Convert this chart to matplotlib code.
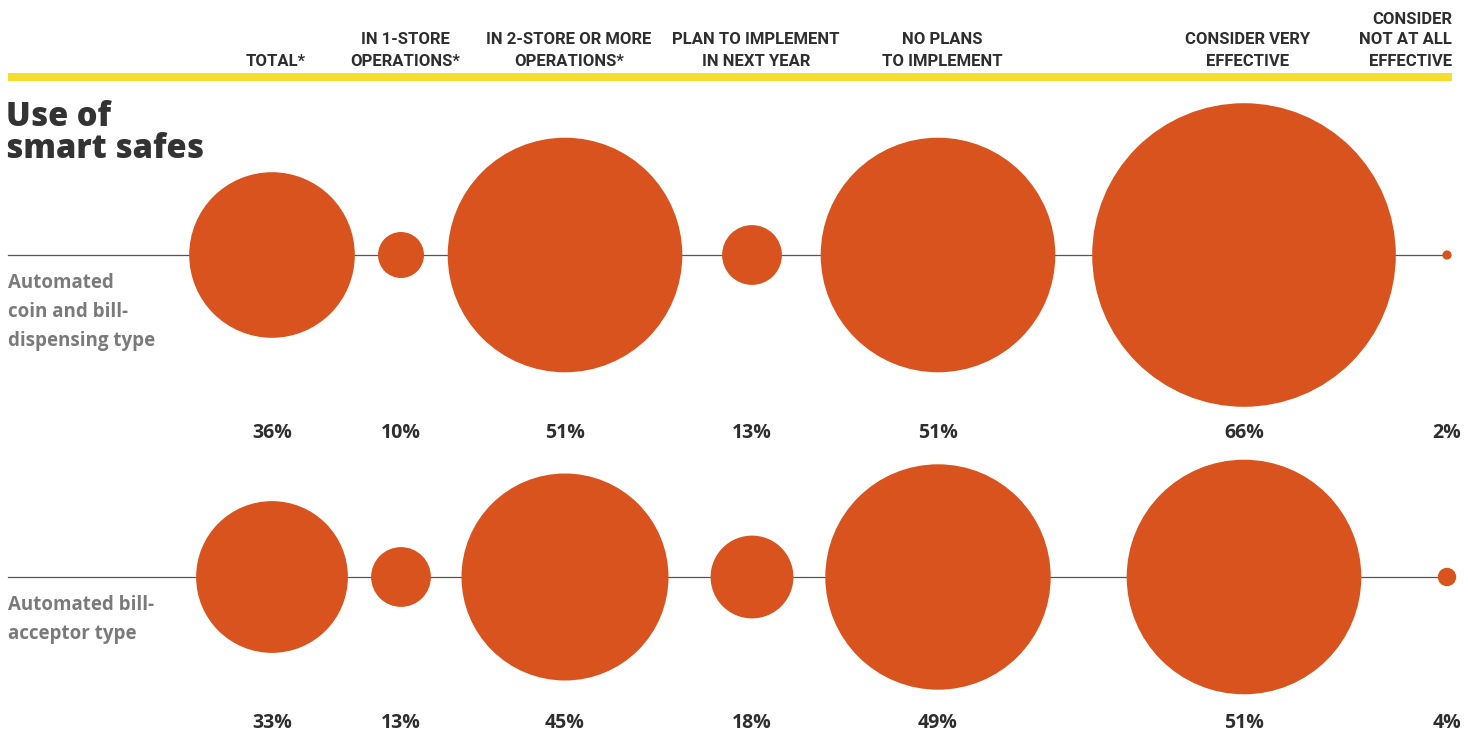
import matplotlib
matplotlib.use("Agg")
import matplotlib.pyplot as plt
from matplotlib.patches import Circle, Rectangle

# ---- data ----
columns = ["TOTAL*", "IN 1-STORE\nOPERATIONS*", "IN 2-STORE OR MORE\nOPERATIONS*",
           "PLAN TO IMPLEMENT\nIN NEXT YEAR", "NO PLANS\nTO IMPLEMENT",
           "CONSIDER VERY\nEFFECTIVE", "CONSIDER\nNOT AT ALL\nEFFECTIVE"]
row_labels = ["Automated\ncoin and bill-\ndispensing type", "Automated bill-\nacceptor type"]
coin_bill_dispensing = [36, 10, 51, 13, 51, 66, 2]
bill_acceptor = [33, 13, 45, 18, 49, 51, 4]
title = "Use of\nsmart safes"

# ---- layout ----
W, H = 1468, 736
col_x = [272, 401, 565, 752, 938, 1244, 1447]
row_y = [255, 577]
label_y = [433, 723]
px_per_pct = 4.6
circle_color = "#D9531F"
dark = "#2e2e2e"

fig = plt.figure(figsize=(W / 100, H / 100), dpi=100)
ax = fig.add_axes([0, 0, 1, 1])
ax.set_xlim(0, W)
ax.set_ylim(H, 0)
ax.set_aspect("equal")
ax.axis("off")

head_font = ["Roboto", "DejaVu Sans"]
body_font = ["Open Sans", "DejaVu Sans"]

# header
for i, (x, txt) in enumerate(zip(col_x, columns)):
    lines = txt.split("\n")
    n = len(lines)
    for j, ln in enumerate(lines):
        y = 61 - (n - 1 - j) * 21
        if i == len(columns) - 1:
            ax.text(1452, y, ln, ha="right", va="center", fontsize=12,
                    fontweight="bold", family=head_font, color=dark)
        else:
            ax.text(x + 4, y, ln, ha="center", va="center", fontsize=12,
                    fontweight="bold", family=head_font, color=dark)

ax.add_patch(Rectangle((8, 73), 1444, 8, color="#F6DC2C", lw=0))

# title (single text object, tight leading)
ax.text(6, 133, title, ha="left", va="center", fontsize=23.5, linespacing=0.92,
        fontweight="heavy", family=body_font, color="#333333")

series = [coin_bill_dispensing, bill_acceptor]
for r, vals in enumerate(series):
    cy = row_y[r]
    ax.plot([8, col_x[-1]], [cy, cy], color="#555555", lw=0.9, zorder=1)
    for x, v in zip(col_x, vals):
        ax.add_patch(Circle((x, cy), v * px_per_pct / 2, color=circle_color, lw=0, zorder=2))
        ax.text(x, label_y[r], f"{v}%", ha="center", va="center", fontsize=14,
                fontweight="bold", family=body_font, color=dark)
    # row label
    for j, ln in enumerate(row_labels[r].split("\n")):
        ax.text(8, cy + 28 + j * 29, ln, ha="left", va="center", fontsize=13.5,
                fontweight="bold", family=body_font, color="#7a7a7a")

fig.savefig("out.png", dpi=100, facecolor="white")
